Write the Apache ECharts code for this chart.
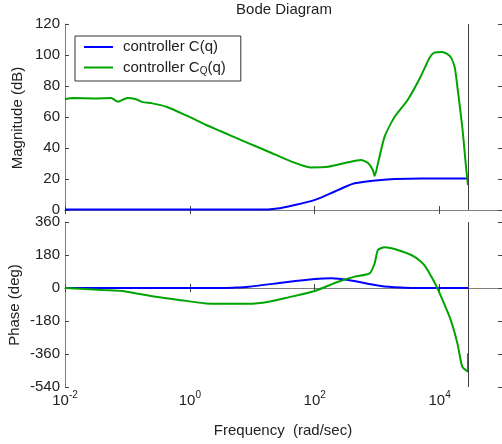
<!DOCTYPE html>
<html>
<head>
<meta charset="utf-8">
<script src="https://cdn.jsdelivr.net/npm/echarts@6/dist/echarts.min.js"></script>
<style>html,body{margin:0;padding:0;background:#fff}#c{width:502px;height:444px}</style>
</head>
<body>
<div id="c"></div>
<script>
// ---- data ----
var seriesNames = ['controller C(q)', 'controller C_Q(q)'];
var xTickExponents = [-2, 0, 2, 4];
var magTicks = [0, 20, 40, 60, 80, 100, 120];
var phaseTicks = [-540, -360, -180, 0, 180, 360];
var nyquistFreq = 29300;

// controller C(q) magnitude (dB)
var magC_f = [0.01, 1, 10, 18, 25, 42.5, 101, 237, 438, 1150, 1900, 5000, 28500];
var magC_v = [0.3, 0.3, 0.3, 0.4, 0.9, 2.8, 6.5, 12.9, 17.2, 19.4, 20.0, 20.4, 20.4];

// controller C_Q(q) magnitude (dB)
var magCQ_f = [0.01, 0.013, 0.03, 0.055, 0.07, 0.1, 0.138, 0.174, 0.25, 0.42, 0.87, 1.8, 3.27, 8.8, 18.3, 42.5, 85, 164, 343, 551, 713, 850, 912, 1030, 1310, 1900, 3080, 4970, 6820, 8200, 11100, 14900, 17500, 19300, 23100, 26500, 28500];
var magCQ_v = [71.4, 72.2, 72.0, 72.3, 69.9, 72.3, 71.4, 69.6, 68.8, 66.6, 61.0, 55.0, 50.5, 43.0, 37.6, 31.2, 27.5, 27.9, 30.8, 32.3, 30.3, 26.0, 21.9, 30.0, 47.0, 60.0, 71.0, 86.0, 97.8, 101.5, 102.0, 99.0, 92.0, 79.5, 53.7, 28.0, 16.0];

// controller C(q) phase (deg)
var phC_f = [0.01, 3.1, 5, 8.8, 29.4, 101, 184, 343, 1150, 2740, 5000, 28500];
var phC_v = [0, 0, 2, 7, 29, 49, 53, 44, 11, 2, 0, 0];

// controller C_Q(q) phase (deg)
var phCQ_f = [0.01, 0.04, 0.084, 0.156, 0.325, 0.676, 1.8, 8.8, 18.3, 38, 101, 237, 438, 759, 912, 1030, 1310, 2140, 3940, 5690, 8200, 10300, 15100, 19300, 23100, 28500, 28500];
var phCQ_v = [0, -11, -16, -33, -51, -65, -84, -86, -75, -51, -16, 34, 62, 80, 135, 207, 222, 207, 171, 125, 34, -38, -175, -302, -429, -457, -356];

function pairs(f, v) { var out = []; for (var i = 0; i < f.length; i++) out.push([f[i], v[i]]); return out; }

var FONT = 'Liberation Sans, Arial, sans-serif';
var TXT = '#222';
var FRAME = '#808080';
var TICK = '#444';
var BLUE = '#0000ff';
var GREEN = '#00a400';

function xAxisDef(grid, pos, labels) {
  return {
    type: 'log', logBase: 10, gridIndex: grid, position: pos,
    min: 0.01, max: 100000, interval: 2,
    axisLine: { show: true, lineStyle: { color: FRAME, width: 1 } },
    axisTick: { show: true, inside: true, length: 4, lineStyle: { color: TICK } },
    splitLine: { show: false },
    minorTick: { show: false },
    axisLabel: labels ? {
      show: true, showMaxLabel: false, margin: 5,
      formatter: function (v) {
        var e = Math.round(Math.log(v) / Math.LN10);
        return '{b|10}{s|' + e + '}';
      },
      rich: {
        b: { fontSize: 15, fontFamily: FONT, color: TXT, lineHeight: 17 },
        s: { fontSize: 10, fontFamily: FONT, color: TXT, padding: [0, 0, 10, 0], lineHeight: 17 }
      }
    } : { show: false }
  };
}
function yAxisDef(grid, pos, ticks, labels) {
  var mn = ticks[0], mx = ticks[ticks.length - 1];
  return {
    type: 'value', gridIndex: grid, position: pos,
    min: mn, max: mx, interval: ticks[1] - ticks[0],
    axisLine: { show: true, lineStyle: { color: FRAME, width: 1 } },
    axisTick: { show: true, inside: true, length: 4, lineStyle: { color: TICK } },
    splitLine: { show: false },
    axisLabel: labels ? { show: true, fontSize: 15, fontFamily: FONT, color: TXT, margin: 5 } : { show: false }
  };
}

var nyq = {
  silent: true, symbol: ['none', 'none'],
  label: { show: false },
  lineStyle: { color: '#404040', width: 1, type: 'solid' },
  data: [{ xAxis: nyquistFreq }]
};

var chart = echarts.init(document.getElementById('c'), null, { renderer: 'canvas' });
chart.setOption({
  animation: false,
  backgroundColor: '#fff',
  grid: [
    { left: 65, top: 24, right: -3, height: 186 },
    { left: 65, top: 222, right: -3, height: 165 }
  ],
  xAxis: [
    xAxisDef(0, 'bottom', false),
    xAxisDef(0, 'top', false),
    xAxisDef(1, 'bottom', true),
    xAxisDef(1, 'top', false)
  ],
  yAxis: [
    yAxisDef(0, 'left', magTicks, true),
    yAxisDef(0, 'right', magTicks, false),
    yAxisDef(1, 'left', phaseTicks, true),
    yAxisDef(1, 'right', phaseTicks, false)
  ],
  legend: {
    left: 75, top: 36, orient: 'vertical',
    data: seriesNames,
    icon: 'rect',
    backgroundColor: '#fff', borderColor: '#333', borderWidth: 1, borderRadius: 0,
    padding: [3, 15, 5, 9], itemGap: 4, itemWidth: 29, itemHeight: 2,
    textStyle: {
      fontSize: 15, fontFamily: FONT, color: TXT, lineHeight: 16,
      rich: {
        n0: { fontSize: 15, fontFamily: FONT, color: TXT, lineHeight: 16, padding: [0, 0, 0, 5] },
        n: { fontSize: 15, fontFamily: FONT, color: TXT, lineHeight: 16 },
        sub: { fontSize: 10, fontFamily: FONT, color: TXT, padding: [7, 0, 0, 0], lineHeight: 16 }
      }
    },
    formatter: function (name) {
      if (name === seriesNames[1]) return '{n0|controller C}{sub|Q}{n|(q)}';
      return '{n0|' + name + '}';
    }
  },
  graphic: [
    { type: 'text', x: 284, y: 10, style: { text: 'Bode Diagram', font: '15px ' + FONT, fill: TXT, textAlign: 'center', textVerticalAlign: 'middle' } },
    { type: 'text', x: 283, y: 431, style: { text: 'Frequency  (rad/sec)', font: '15px ' + FONT, fill: TXT, textAlign: 'center', textVerticalAlign: 'middle' } },
    { type: 'text', x: 18, y: 118, rotation: Math.PI / 2, style: { text: 'Magnitude (dB)', font: '15px ' + FONT, fill: TXT, textAlign: 'center', textVerticalAlign: 'middle' } },
    { type: 'text', x: 15, y: 305, rotation: Math.PI / 2, style: { text: 'Phase (deg)', font: '15px ' + FONT, fill: TXT, textAlign: 'center', textVerticalAlign: 'middle' } }
  ],
  series: [
    { name: seriesNames[0], type: 'line', xAxisIndex: 0, yAxisIndex: 0, data: pairs(magC_f, magC_v), symbol: 'none', smooth: 0.3, lineStyle: { color: BLUE, width: 2 }, itemStyle: { color: BLUE }, z: 3 },
    { name: seriesNames[1], type: 'line', xAxisIndex: 0, yAxisIndex: 0, data: pairs(magCQ_f, magCQ_v), symbol: 'none', smooth: 0.2, lineStyle: { color: GREEN, width: 2 }, itemStyle: { color: GREEN }, z: 4, markLine: nyq },
    { name: seriesNames[0], type: 'line', xAxisIndex: 2, yAxisIndex: 2, data: pairs(phC_f, phC_v), symbol: 'none', smooth: 0.3, lineStyle: { color: BLUE, width: 2 }, itemStyle: { color: BLUE }, z: 3 },
    { name: seriesNames[1], type: 'line', xAxisIndex: 2, yAxisIndex: 2, data: pairs(phCQ_f, phCQ_v), symbol: 'none', smooth: 0.2, lineStyle: { color: GREEN, width: 2 }, itemStyle: { color: GREEN }, z: 4, markLine: nyq }
  ]
});
</script>
</body>
</html>
